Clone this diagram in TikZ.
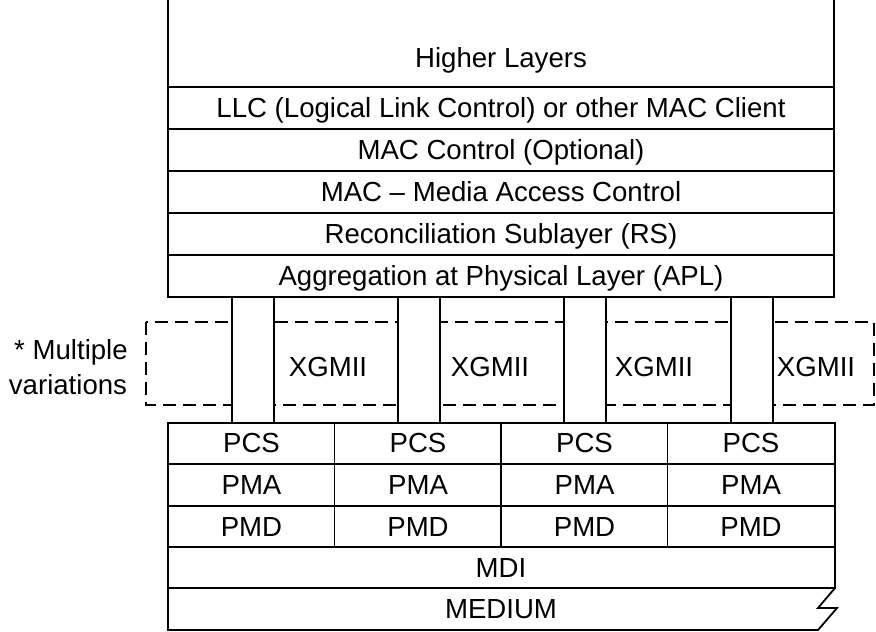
\documentclass[tikz,border=0pt]{standalone}
\usepackage{fontspec}
\setmainfont{Liberation Sans}

\begin{document}
\begin{tikzpicture}[x=0.5pt,y=-0.5pt,line width=0.9pt,
  lbl/.style={anchor=base,font=\fontsize{13.8}{16}\selectfont},
  frame/.style={dash pattern=on 6.5pt off 3.5pt,line width=0.8pt}]
\useasboundingbox (0,0) rectangle (876,631);

% upper stack, open at the top
\draw (168,0) -- (168,297) -- (834,297) -- (834,0);
\foreach \y in {87,129,171,213,255}{
	\draw (168,\y) -- (834,\y);
	}
\node[lbl] (higher) at (501,68) {Higher Layers};
\node[lbl] (llc) at (501,117) {LLC (Logical Link Control) or other MAC Client};
\node[lbl] (macctl) at (501,159) {MAC Control (Optional)};
\node[lbl] (mac) at (501,201) {MAC -- Media Access Control};
\node[lbl] (rs) at (501,243) {Reconciliation Sublayer (RS)};
\node[lbl] (apl) at (501,285) {Aggregation at Physical Layer (APL)};

% dashed frame of the interfaces
\draw[frame] (146,322) rectangle (874,405);
\node[lbl] (multi) at (71,359) {* Multiple};
\node[lbl] (var) at (68,394) {variations};

\foreach \x in {232,398,564,731}{
	\draw[fill=white] (\x,297) rectangle ++(42,126);
	}
\foreach \x [count=\i] in {328,490,654,816}{
	\node[lbl] (xgmii\i) at (\x,376) {XGMII};
	}

% lower stack
\draw (168,423) rectangle (835,547);
\foreach \y in {464,506}{
	\draw (168,\y) -- (835,\y);
	}
\foreach \x in {334.5,501,667.5}{
	\draw (\x,423) -- (\x,547);
	}
\foreach \x [count=\i] in {251.5,418,584.5,751}{
	\node[lbl] (pcs\i) at (\x,452) {PCS};
	\node[lbl] (pma\i) at (\x,494) {PMA};
	\node[lbl] (pmd\i) at (\x,536) {PMD};
	}
\draw (168,547) rectangle (835,588);
\node[lbl] (mdi) at (501,577) {MDI};
\draw (168,588) -- (168,630) -- (818,630) -- (837,608) -- (818,608) -- (835,588);
\node[lbl] (medium) at (501,618) {MEDIUM};
\end{tikzpicture}
\end{document}
